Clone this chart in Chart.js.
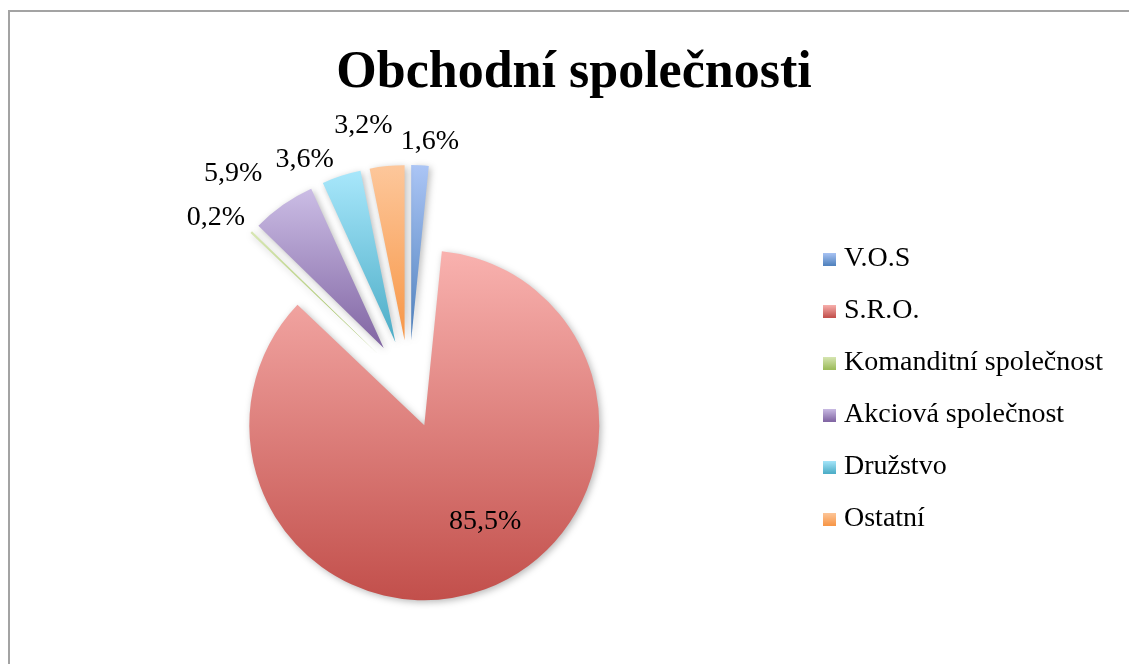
<!DOCTYPE html>
<html>
<head>
<meta charset="utf-8">
<title>Obchodní společnosti</title>
<script src="https://cdn.jsdelivr.net/npm/chart.js@4.4.1/dist/chart.umd.min.js"></script>
<style>
  html, body { margin: 0; padding: 0; background: #fff; overflow: hidden; }
  #ramecek { position: absolute; left: 8px; top: 10px; width: 1200px; height: 700px; border: 2px solid #a3a3a3; }
  #chart { position: absolute; left: 0; top: 0; }
</style>
</head>
<body>
<div id="ramecek"></div>
<canvas id="chart" width="1129" height="664"></canvas>
<script>
const titulek = 'Obchodní společnosti';
const kategorie = ['V.O.S', 'S.R.O.', 'Komanditní společnost', 'Akciová společnost', 'Družstvo', 'Ostatní'];
const podily = [1.6, 85.5, 0.2, 5.9, 3.6, 3.2];

// barvy vyseci - svetla horni a tmava spodni cast prechodu
const barvySvetle = ['#abc5f5', '#f9b2af', '#d8e7b4', '#cbbde5', '#a8e7fb', '#fdc79b'];
const barvyTmave = ['#4f81bd', '#c24f4b', '#9bbb59', '#8064a2', '#4bacc6', '#f79646'];

// umisteni popisku: vzdalenost od stredu a pootoceni (stupne)
const popisekVzdal = [245, 156, 256, 276, 249, 264];
const popisekOtoc = [2.0, -8.9, -2.9, -4.5, -6.8, -4.2];

const POLOMER = 175;
const VYSUNUTI = 44;
const STRED_X = 409;
const STRED_Y = 384;
const PISMO = '"Liberation Serif", "Times New Roman", serif';
const LEGENDA_VEL = 28;
const LEGENDA_MEZERA = 24;
const LEGENDA_X = 829;

function procento(v) {
    return v.toFixed(1).replace('.', ',') + '%';
}

// svisly rozsah vyseci (bez vysunuti, to se prida posunem pri kresleni)
function rozsahVyseci(chart, i) {
    const a = chart.chartArea;
    const cy = (a.top + a.bottom) / 2;
    const total = podily.reduce((s, v) => s + v, 0);
    let start = -Math.PI / 2;
    for (let k = 0; k < i; k++) start += podily[k] / total * Math.PI * 2;
    const end = start + podily[i] / total * Math.PI * 2;
    const ys = [cy, cy + POLOMER * Math.sin(start), cy + POLOMER * Math.sin(end)];
    [Math.PI / 2, Math.PI * 1.5].forEach(t => {
        if (t > start && t < end) ys.push(cy + POLOMER * Math.sin(t));
    });
    return [Math.min(...ys), Math.max(...ys)];
}

function vyplnVyseci(c) {
    const chart = c.chart;
    const i = c.dataIndex;
    if (!chart.chartArea || i === undefined) return barvyTmave[i || 0];
    const r = rozsahVyseci(chart, i);
    const g = chart.ctx.createLinearGradient(0, r[0], 0, r[1]);
    g.addColorStop(0, barvySvetle[i]);
    g.addColorStop(1, barvyTmave[i]);
    return g;
}

function ctverecek(i) {
    const cv = document.createElement('canvas');
    cv.width = 13;
    cv.height = 13;
    const x = cv.getContext('2d');
    const g = x.createLinearGradient(0, 0, 0, 13);
    g.addColorStop(0, barvySvetle[i]);
    g.addColorStop(1, barvyTmave[i]);
    x.fillStyle = g;
    x.fillRect(0, 0, 13, 13);
    return cv;
}

// okraje rozvrzeni, aby stred kolace vysel na STRED_X / STRED_Y
const mereni = document.createElement('canvas').getContext('2d');
mereni.font = LEGENDA_VEL + 'px ' + PISMO;
const nejdelsi = Math.max(...kategorie.map(t => mereni.measureText(t).width));
const sirkaLegendy = LEGENDA_MEZERA + 1 + LEGENDA_VEL / 2 + nejdelsi + 10;
const legendaVlevo = LEGENDA_X - LEGENDA_MEZERA;
const padVlevo = 2 * STRED_X - legendaVlevo;
const padVpravo = 1129 - legendaVlevo - sirkaLegendy;
const padNahore = 124;
const padDole = padNahore - (2 * STRED_Y - 664);

const vybuch = {
    id: 'vybuch',
    beforeDatasetDraw(chart, args) {
        const ctx = chart.ctx;
        args.meta.data.forEach(arc => {
            const mid = (arc.startAngle + arc.endAngle) / 2;
            ctx.save();
            ctx.shadowColor = 'rgba(0, 0, 0, 0.28)';
            ctx.shadowBlur = 7;
            ctx.shadowOffsetX = 2;
            ctx.shadowOffsetY = 2;
            ctx.translate(Math.cos(mid) * VYSUNUTI, Math.sin(mid) * VYSUNUTI);
            arc.draw(ctx);
            ctx.restore();
        });
        return false;
    },
    afterDatasetsDraw(chart) {
        const ctx = chart.ctx;
        const meta = chart.getDatasetMeta(0);
        ctx.save();
        ctx.font = '28px ' + PISMO;
        ctx.fillStyle = '#000';
        ctx.textAlign = 'center';
        ctx.textBaseline = 'middle';
        meta.data.forEach((arc, i) => {
            const a = (arc.startAngle + arc.endAngle) / 2 + popisekOtoc[i] * Math.PI / 180;
            ctx.fillText(procento(podily[i]), arc.x + Math.cos(a) * popisekVzdal[i], arc.y + Math.sin(a) * popisekVzdal[i] + 2);
        });
        ctx.restore();
    },
    afterDraw(chart) {
        const ctx = chart.ctx;
        ctx.save();
        ctx.font = 'bold 52px ' + PISMO;
        ctx.fillStyle = '#000';
        ctx.textAlign = 'center';
        ctx.textBaseline = 'alphabetic';
        ctx.fillText(titulek, 574, 87);
        ctx.restore();
    }
};

const vychoziPopisky = (Chart.overrides.pie && Chart.overrides.pie.plugins.legend.labels.generateLabels)
    || Chart.overrides.doughnut.plugins.legend.labels.generateLabels;

const ctx = document.getElementById('chart').getContext('2d');
const chart = new Chart(ctx, {
    type: 'pie',
    data: {
        labels: kategorie,
        datasets: [{
            data: podily,
            backgroundColor: vyplnVyseci,
            borderWidth: 0,
            offset: 0,
            hoverOffset: 0,
            radius: POLOMER
        }]
    },
    options: {
        responsive: false,
        animation: false,
        events: [],
        layout: {
            padding: { left: padVlevo, right: padVpravo, top: padNahore, bottom: padDole }
        },
        plugins: {
            title: { display: false },
            tooltip: { enabled: false },
            legend: {
                position: 'right',
                fullSize: false,
                // prazdny titulek legendy jen posune polozky o par px dolu
                title: { display: true, text: '', font: { size: 1 }, padding: { top: 9, bottom: 0 } },
                labels: {
                    usePointStyle: true,
                    pointStyleWidth: 1,
                    boxHeight: 13,
                    padding: LEGENDA_MEZERA,
                    color: '#000',
                    font: { family: PISMO, size: LEGENDA_VEL },
                    generateLabels(ch) {
                        const items = vychoziPopisky(ch);
                        items.forEach((it, i) => { it.pointStyle = ctverecek(i); });
                        return items;
                    }
                }
            }
        }
    },
    plugins: [vybuch]
});
</script>
</body>
</html>
